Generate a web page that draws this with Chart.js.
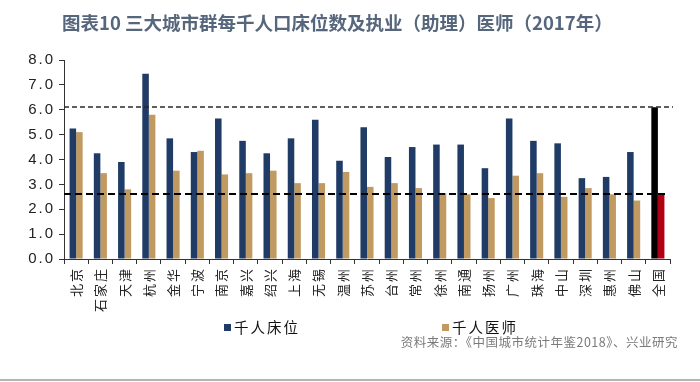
<!DOCTYPE html>
<html><head><meta charset="utf-8">
<script src="https://cdn.jsdelivr.net/npm/chart.js@4.4.1/dist/chart.umd.min.js"></script>
<style>
html,body{margin:0;padding:0;background:#fff;}
#wrap{position:relative;width:700px;height:382px;overflow:hidden;}
#c{position:absolute;left:0;top:0;}
.title{position:absolute;left:62px;top:9px;font-family:"Noto Sans CJK SC";font-weight:bold;font-size:18.5px;color:#56667c;white-space:nowrap;}
.leg{position:absolute;top:316px;font-family:"Noto Sans CJK SC";font-size:14.5px;color:#111;letter-spacing:2px;white-space:nowrap;}
.leg i{display:inline-block;width:7px;height:7px;margin-right:3px;vertical-align:middle;position:relative;top:-2px;}
.src{position:absolute;right:22px;top:332px;font-family:"Noto Sans CJK SC";font-size:12.5px;color:#7a7a7a;white-space:nowrap;letter-spacing:0.5px;}
.bl{position:absolute;left:0;top:379px;width:700px;height:2px;background:#b4b4b4;}
</style></head>
<body><div id="wrap">
<canvas id="c" width="700" height="382"></canvas>
<div class="title">图表10 三大城市群每千人口床位数及执业（助理）医师（2017年）</div>
<div class="leg" style="left:224px"><i style="background:#1f3b66"></i>千人床位</div>
<div class="leg" style="left:442px"><i style="background:#c19a62"></i>千人医师</div>
<div class="src">资料来源：《中国城市统计年鉴2018》、兴业研究</div>
<div class="bl"></div>
</div>
<script>
const categories = ['北京','石家庄','天津','杭州','金华','宁波','南京','嘉兴','绍兴','上海','无锡','温州','苏州','台州','常州','徐州','南通','扬州','广州','珠海','中山','深圳','惠州','佛山','全国'];
const beds =    [5.25,4.25,3.9,7.45,4.85,4.3,5.65,4.75,4.25,4.85,5.6,3.95,5.3,4.1,4.5,4.6,4.6,3.65,5.65,4.75,4.65,3.25,3.3,4.3,6.1];
const doctors = [5.1,3.45,2.8,5.8,3.55,4.35,3.4,3.45,3.55,3.05,3.05,3.5,2.9,3.05,2.85,2.65,2.6,2.45,3.35,3.45,2.5,2.85,2.6,2.35,2.6];
const refLines = [6.1, 2.6];
const yTicks = [0,1,2,3,4,5,6,7,8];

const blue='#1f3b66', brown='#c19a62';
const bedColors = categories.map((c,i)=> i===categories.length-1 ? '#000000' : blue);
const docColors = categories.map((c,i)=> i===categories.length-1 ? '#b00012' : brown);

const refPlugin = {
  id:'refLines',
  afterDatasetsDraw(chart){
    const {ctx, chartArea, scales:{y}} = chart;
    ctx.save();
    let py = Math.round(y.getPixelForValue(refLines[0]));
    ctx.strokeStyle='#2a2a2a'; ctx.lineWidth=1.6; ctx.setLineDash([5,3]);
    ctx.beginPath(); ctx.moveTo(chartArea.left, py); ctx.lineTo(chartArea.right+3, py); ctx.stroke();
    py = Math.round(y.getPixelForValue(refLines[1]));
    ctx.strokeStyle='#000'; ctx.lineWidth=2.2; ctx.setLineDash([7,4]);
    ctx.beginPath(); ctx.moveTo(chartArea.left, py); ctx.lineTo(chartArea.right-2, py); ctx.stroke();
    ctx.restore();
  }
};
const spacing = {id:'spacing', beforeDraw(chart){ chart.ctx.letterSpacing='2px'; }, beforeLayout(chart){ chart.ctx.letterSpacing='2px'; }};

new Chart(document.getElementById('c'), {
  type:'bar',
  data:{labels:categories, datasets:[
    {label:'千人床位', data:beds, backgroundColor:bedColors, barPercentage:1, categoryPercentage:0.54},
    {label:'千人医师', data:doctors, backgroundColor:docColors, barPercentage:1, categoryPercentage:0.54}
  ]},
  options:{
    responsive:false, animation:false, devicePixelRatio:1,
    layout:{padding:{top:60,right:30,left:0,bottom:0}},
    plugins:{legend:{display:false}, title:{display:false}, tooltip:{enabled:false}},
    scales:{
      x:{
        grid:{display:true, drawOnChartArea:false, drawTicks:true, tickLength:5, color:'#333', lineWidth:1, offset:true},
        border:{display:true, color:'#333', width:1},
        ticks:{minRotation:90, maxRotation:90, autoSkip:false, padding:3, color:'#222', font:{family:'"Noto Sans CJK SC"', size:13}},
        afterFit(s){ s.height = 123; }
      },
      y:{
        min:0, max:8,
        afterBuildTicks(s){ s.ticks = yTicks.map(v=>({value:v})); },
        grid:{display:true, drawOnChartArea:false, drawTicks:true, tickLength:5, color:'#333'},
        border:{display:true, color:'#333', width:1},
        ticks:{padding:4, color:'#222', font:{family:'"Liberation Sans"', size:15}, callback:v=>v.toFixed(1)},
        afterFit(s){ s.width = 64; }
      }
    }
  },
  plugins:[spacing, refPlugin]
});
</script>
</body></html>
